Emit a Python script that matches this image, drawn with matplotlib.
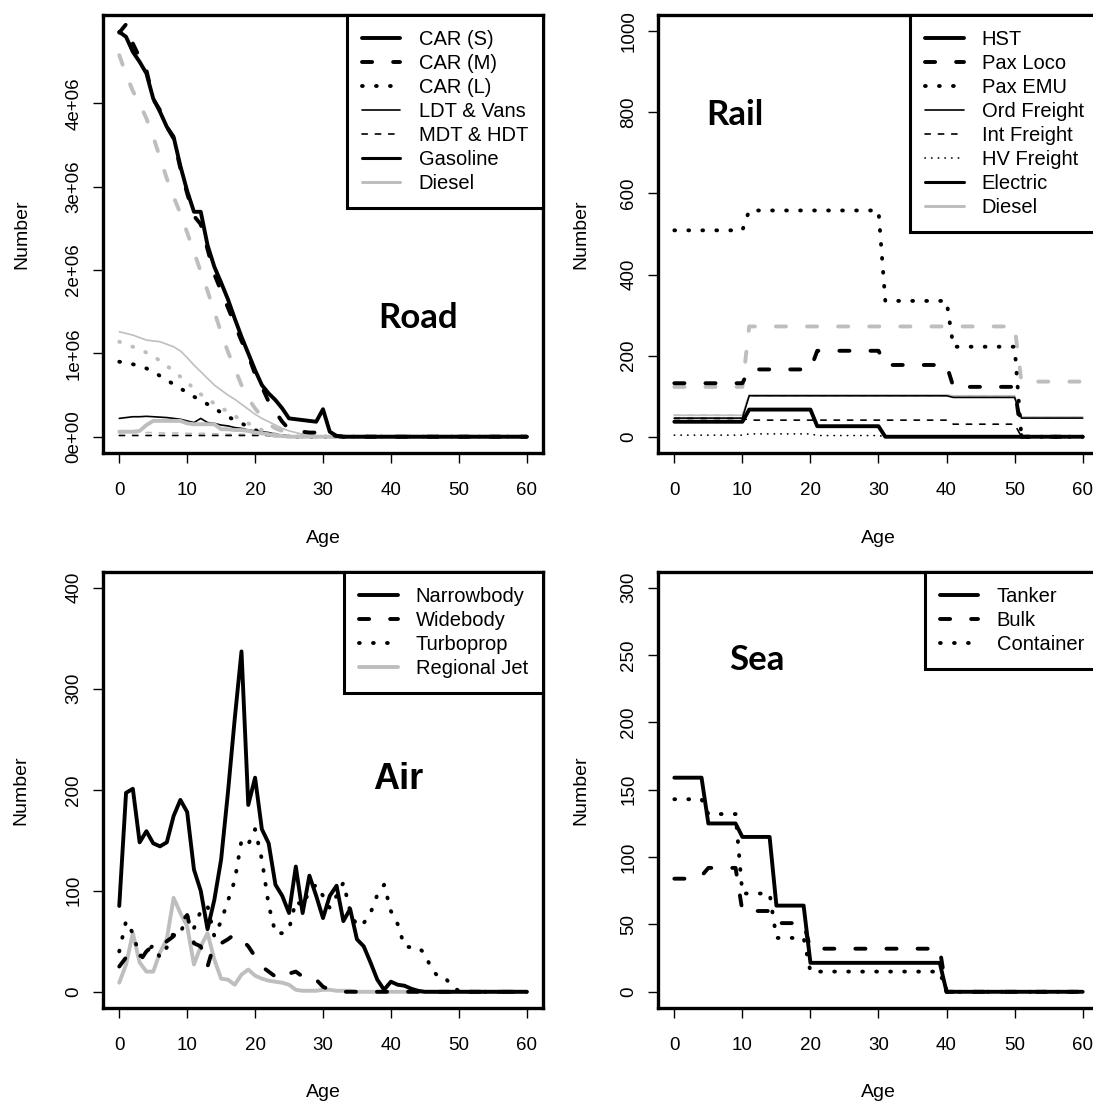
import numpy as np
import matplotlib
matplotlib.use("Agg")
import matplotlib.pyplot as plt
from matplotlib.lines import Line2D

plt.rcParams['font.family'] = ['Liberation Sans', 'DejaVu Sans']

ages = np.arange(0, 61)
x_ticks = [0, 10, 20, 30, 40, 50, 60]

# ---------------- Road (millions of vehicles) ----------------
road_car_s_gas = [4.86, 4.80, 4.62, 4.50, 4.36, 4.06, 3.90, 3.72, 3.60, 3.25, 2.95, 2.70, 2.70,
                  2.30, 2.04, 1.85, 1.65, 1.42, 1.20, 1.00, 0.80, 0.62, 0.52, 0.44, 0.34, 0.22,
                  0.21, 0.20, 0.19, 0.18, 0.33, 0.06, 0.01] + [0] * 28
road_car_m_gas = [4.85, 4.95, 4.72, 4.55, 4.40, 4.05, 3.92, 3.72, 3.58, 3.22, 2.92, 2.65, 2.55,
                  2.25, 1.95, 1.75, 1.55, 1.35, 1.15, 0.98, 0.75, 0.60, 0.42, 0.30, 0.18, 0.09,
                  0.09, 0.06, 0.05, 0.05, 0.06, 0.02, 0.01] + [0] * 28
road_car_m_dsl = [4.58, 4.35, 4.15, 4.00, 3.82, 3.60, 3.35, 3.10, 2.88, 2.68, 2.45, 2.22, 1.98,
                  1.75, 1.50, 1.25, 1.02, 0.82, 0.62, 0.46, 0.34, 0.24, 0.15, 0.10, 0.07, 0.04,
                  0.03, 0.02, 0.02, 0.01, 0.01] + [0] * 30
road_car_l_gas = [0.90, 0.89, 0.87, 0.85, 0.82, 0.78, 0.73, 0.68, 0.63, 0.58, 0.53, 0.48, 0.44,
                  0.39, 0.34, 0.29, 0.24, 0.20, 0.16, 0.12, 0.08, 0.05, 0.03, 0.02, 0.01, 0.01] + [0] * 35
road_car_l_dsl = [1.14, 1.11, 1.08, 1.05, 1.01, 0.97, 0.91, 0.85, 0.79, 0.72, 0.65, 0.58, 0.51,
                  0.45, 0.40, 0.35, 0.30, 0.25, 0.20, 0.16, 0.12, 0.08, 0.05, 0.03, 0.02, 0.01] + [0] * 35
road_car_s_dsl = [0.06, 0.06, 0.06, 0.07, 0.14, 0.19, 0.19, 0.19, 0.19, 0.19, 0.16, 0.15, 0.15,
                  0.15, 0.15, 0.09, 0.09, 0.08, 0.08, 0.07, 0.05, 0.04, 0.03, 0.01, 0.01] + [0] * 36
road_ldt_gas = [0.22, 0.23, 0.24, 0.24, 0.245, 0.24, 0.235, 0.23, 0.22, 0.21, 0.19, 0.17, 0.22,
                0.17, 0.16, 0.14, 0.13, 0.11, 0.10, 0.08, 0.07, 0.06, 0.05, 0.03, 0.02, 0.01] + [0] * 35
road_ldt_dsl = [1.26, 1.24, 1.22, 1.19, 1.16, 1.15, 1.14, 1.11, 1.08, 1.03, 0.95, 0.86, 0.78,
                0.70, 0.62, 0.56, 0.50, 0.45, 0.39, 0.33, 0.27, 0.22, 0.18, 0.14, 0.10, 0.07,
                0.05, 0.03, 0.02, 0.01] + [0] * 31
road_mdt_dsl = [0.05, 0.05, 0.05, 0.05, 0.05, 0.05, 0.045, 0.045, 0.045, 0.045, 0.04, 0.04, 0.04,
                0.04, 0.035, 0.035, 0.03, 0.03, 0.03, 0.025, 0.025, 0.02, 0.02, 0.02, 0.015, 0.015,
                0.01, 0.01, 0.01, 0.01] + [0] * 31
road_mdt_gas = [0.015] * 25 + [0] * 36
road_yticks = [0, 1e6, 2e6, 3e6, 4e6]
road_yticklabels = ['0e+00', '1e+06', '2e+06', '3e+06', '4e+06']
road_labels = ['CAR (S)', 'CAR (M)', 'CAR (L)', 'LDT & Vans', 'MDT & HDT', 'Gasoline', 'Diesel']

# ---------------- Rail (bands 0-10, 11-20, 21-30, 31-40, 41-50, 51-60) ----------------
rail_hst_e = [37] * 11 + [67] * 10 + [26] * 10 + [0] * 30
rail_paxloco_e = [132] * 11 + [166] * 10 + [212] * 10 + [177] * 10 + [123] * 10 + [0] * 10
rail_paxloco_d = [123] * 11 + [272] * 40 + [136] * 10
rail_paxemu_e = [509] * 11 + [558] * 20 + [335] * 10 + [222] * 10 + [0] * 10
rail_ord_e = [46] * 11 + [101] * 30 + [97] * 10 + [46] * 10
rail_ord_d = [53] * 11 + [103] * 30 + [101] * 10 + [49] * 10
rail_int_e = [45] * 11 + [41] * 30 + [31] * 10 + [0] * 10
rail_int_d = [53] * 11 + [101] * 40 + [49] * 10
rail_hv_e = [4] * 11 + [7] * 10 + [3] * 10 + [0] * 30
rail_yticks = [0, 200, 400, 600, 800, 1000]
rail_labels = ['HST', 'Pax Loco', 'Pax EMU', 'Ord Freight', 'Int Freight', 'HV Freight',
               'Electric', 'Diesel']

# ---------------- Air ----------------
air_narrow = [85, 197, 201, 148, 159, 147, 144, 148, 174, 190, 178, 121, 100, 62, 91, 131, 197,
              270, 337, 185, 212, 161, 147, 106, 95, 78, 124, 78, 115, 95, 73, 95, 105, 70, 82,
              52, 45, 29, 12, 2, 10, 7, 6, 3, 1] + [0] * 16
air_wide = [25, 34, 30, 30, 40, 46, 45, 50, 55, 68, 76, 48, 45, 25, 48, 48, 52, 57, 52, 45, 35,
            25, 20, 15, 12, 18, 20, 15, 17, 12, 5, 2, 1] + [0] * 28
air_turbo = [40, 70, 58, 35, 40, 46, 34, 44, 58, 58, 75, 63, 80, 85, 55, 70, 90, 110, 150, 146,
             161, 131, 86, 58, 58, 62, 90, 85, 100, 106, 95, 83, 95, 108, 80, 65, 68, 78, 96,
             106, 80, 67, 45, 44, 44, 38, 22, 15, 14, 5, 1] + [0] * 10
air_regional = [9, 27, 58, 29, 20, 20, 39, 52, 93, 78, 65, 27, 45, 58, 32, 13, 12, 7, 17, 22, 16,
                13, 11, 10, 9, 7, 2, 1, 1, 1, 2, 2, 1, 1, 1] + [0] * 26
air_yticks = [0, 100, 200, 300, 400]
air_labels = ['Narrowbody', 'Widebody', 'Turboprop', 'Regional Jet']

# ---------------- Sea ----------------
sea_tanker = [159] * 5 + [125] * 5 + [115] * 5 + [64] * 5 + [21.5] * 20 + [0] * 21
sea_bulk = [84] * 4 + [86] + [92] * 5 + [60] * 5 + [51] * 5 + [32] * 20 + [0] * 21
sea_container = [143] * 5 + [132] * 5 + [73] * 5 + [40] * 5 + [15] * 20 + [0] * 21
sea_yticks = [0, 50, 100, 150, 200, 250, 300]
sea_labels = ['Tanker', 'Bulk', 'Container']

GREY = '#bebebe'
THICK = 2.8
THIN = 1.2
SOLID = dict(linestyle='-', solid_capstyle='round')
DASH = dict(dashes=(2.6, 5.4), dash_capstyle='round')
DOT = dict(dashes=(0.2, 3.4), dash_capstyle='round')
TDASH = dict(dashes=(3.2, 4.8), dash_capstyle='round')
TDOT = dict(dashes=(0.2, 3.8), dash_capstyle='round')


def line(ax, y, color, lw, style, scale=1.0):
    ax.plot(ages, np.asarray(y, dtype=float) * scale, color=color, lw=lw, **style)


def style_axes(ax, ylim, yticks, yticklabels, ylab_x):
    ax.set_xlim(-2.4, 62.4)
    ax.set_ylim(*ylim)
    ax.set_xticks(x_ticks)
    ax.set_yticks(yticks)
    ax.set_yticklabels(yticklabels, rotation=90, va='center')
    for s in ax.spines.values():
        s.set_linewidth(2.4)
    ax.tick_params(direction='out', length=7, width=1, labelsize=13.5)
    ax.tick_params(axis='x', pad=14)
    ax.tick_params(axis='y', pad=8)
    ax.set_xlabel('Age', fontsize=14)
    ax.set_ylabel('Number', fontsize=14)
    ax.xaxis.set_label_coords(0.5, -0.175)
    ax.yaxis.set_label_coords(ylab_x, 0.5)


def legend(ax, handles, labels):
    leg = ax.legend(handles, labels, loc='upper right', bbox_to_anchor=(1, 1),
                    borderaxespad=0, fancybox=False, framealpha=1, edgecolor='black',
                    fontsize=14.5, handlelength=1.9, handletextpad=0.9,
                    labelspacing=0.25, borderpad=0.75)
    leg.get_frame().set_linewidth(2.2)


def h(color, lw, style):
    return Line2D([0], [0], color=color, lw=lw, **style)


fig = plt.figure(figsize=(10.93, 11.04), dpi=100)
ax_road = fig.add_axes([0.0942, 0.5897, 0.4026, 0.3967])
ax_rail = fig.add_axes([0.6020, 0.5897, 0.4035, 0.3967])
ax_air = fig.add_axes([0.0942, 0.0870, 0.4026, 0.3952])
ax_sea = fig.add_axes([0.6020, 0.0870, 0.4035, 0.3952])

# Road
M = 1e6
line(ax_road, road_mdt_dsl, GREY, THIN, TDASH, M)
line(ax_road, road_mdt_gas, 'black', THIN, TDASH, M)
line(ax_road, road_ldt_dsl, GREY, THIN, SOLID, M)
line(ax_road, road_ldt_gas, 'black', THIN, SOLID, M)
line(ax_road, road_car_l_dsl, GREY, THICK, DOT, M)
line(ax_road, road_car_l_gas, 'black', THICK, DOT, M)
line(ax_road, road_car_s_dsl, GREY, THICK, SOLID, M)
line(ax_road, road_car_m_dsl, GREY, THICK, DASH, M)
line(ax_road, road_car_m_gas, 'black', THICK, DASH, M)
line(ax_road, road_car_s_gas, 'black', THICK, SOLID, M)
style_axes(ax_road, (-0.195e6, 5.062e6), road_yticks, road_yticklabels, -0.166)
legend(ax_road, [h('black', THICK, SOLID), h('black', THICK, DASH), h('black', THICK, DOT),
                 h('black', THIN, SOLID), h('black', THIN, TDASH), h('black', 2.2, SOLID),
                 h(GREY, 2.2, SOLID)], road_labels)
ax_road.text(0.715, 0.285, 'Road', transform=ax_road.transAxes, ha='center', va='baseline',
             fontsize=25, fontweight='bold', family=['Lato', 'DejaVu Sans'])

# Rail
line(ax_rail, rail_hv_e, 'black', THIN, TDOT)
line(ax_rail, rail_int_d, GREY, THIN, TDASH)
line(ax_rail, rail_int_e, 'black', THIN, TDASH)
line(ax_rail, rail_ord_d, GREY, THIN, SOLID)
line(ax_rail, rail_ord_e, 'black', THIN, SOLID)
line(ax_rail, rail_paxloco_d, GREY, THICK, DASH)
line(ax_rail, rail_paxloco_e, 'black', THICK, DASH)
line(ax_rail, rail_paxemu_e, 'black', THICK, DOT)
line(ax_rail, rail_hst_e, 'black', THICK, SOLID)
style_axes(ax_rail, (-40, 1040), rail_yticks, [str(v) for v in rail_yticks], -0.156)
legend(ax_rail, [h('black', THICK, SOLID), h('black', THICK, DASH), h('black', THICK, DOT),
                 h('black', THIN, SOLID), h('black', THIN, TDASH), h('black', THIN, TDOT),
                 h('black', 2.2, SOLID), h(GREY, 2.2, SOLID)], rail_labels)
ax_rail.text(0.175, 0.749, 'Rail', transform=ax_rail.transAxes, ha='center', va='baseline',
             fontsize=25, fontweight='bold', family=['Lato', 'DejaVu Sans'])

# Air
line(ax_air, air_regional, GREY, THICK, SOLID)
line(ax_air, air_turbo, 'black', THICK, DOT)
line(ax_air, air_wide, 'black', THICK, DASH)
line(ax_air, air_narrow, 'black', THICK, SOLID)
style_axes(ax_air, (-16, 416), air_yticks, [str(v) for v in air_yticks], -0.168)
legend(ax_air, [h('black', THICK, SOLID), h('black', THICK, DASH), h('black', THICK, DOT),
                h(GREY, THICK, SOLID)], air_labels)
ax_air.text(0.670, 0.502, 'Air', transform=ax_air.transAxes, ha='center', va='baseline',
            fontsize=26, fontweight='bold')

# Sea
line(ax_sea, sea_container, 'black', THICK, DOT)
line(ax_sea, sea_bulk, 'black', THICK, DASH)
line(ax_sea, sea_tanker, 'black', THICK, SOLID)
style_axes(ax_sea, (-12, 312), sea_yticks, [str(v) for v in sea_yticks], -0.156)
legend(ax_sea, [h('black', THICK, SOLID), h('black', THICK, DASH), h('black', THICK, DOT)],
       sea_labels)
ax_sea.text(0.224, 0.775, 'Sea', transform=ax_sea.transAxes, ha='center', va='baseline',
            fontsize=25, fontweight='bold', family=['Lato', 'DejaVu Sans'])

fig.savefig('out.png', dpi=100)
